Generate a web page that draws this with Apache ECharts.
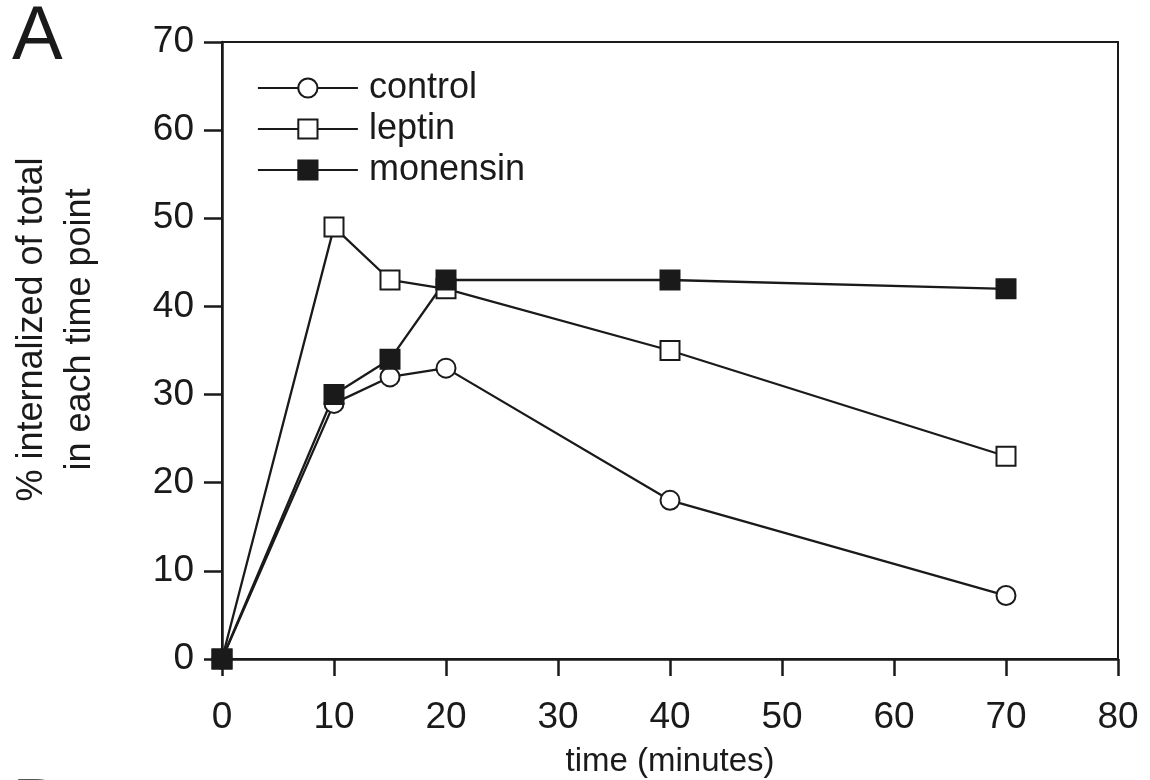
<!DOCTYPE html>
<html>
<head>
<meta charset="utf-8">
<script src="https://cdn.jsdelivr.net/npm/echarts@6/dist/echarts.min.js"></script>
<style>
  html, body { margin: 0; padding: 0; background: #fff; }
  #chart { width: 1150px; height: 780px; }
</style>
</head>
<body>
<div id="chart"></div>
<script>
const timePoints = [0, 10, 15, 20, 40, 70];
const control = [0, 29, 32, 33, 18, 7.2];
const leptin = [0, 49, 43, 42, 35, 23];
const monensin = [0, 30, 34, 43, 43, 42];
const seriesNames = ['control', 'leptin', 'monensin'];

const ink = '#1a1a1a';
const font = '"Liberation Sans", Arial, sans-serif';

function pairs(values) {
    return timePoints.map(function (t, i) { return [t, values[i]]; });
}

function lineSeries(name, values, symbol, fill) {
    return {
        name: name,
        type: 'line',
        data: pairs(values),
        symbol: symbol,
        symbolSize: 19,
        lineStyle: { color: ink, width: 2.3 },
        itemStyle: { color: fill, borderColor: ink, borderWidth: 2 },
        emphasis: { disabled: true },
        animation: false,
    };
}

const option = {
    backgroundColor: '#fff',
    textStyle: { fontFamily: font },
    title: [
        { text: 'A', left: 12, top: 0, padding: 0,
          textStyle: { fontFamily: font, fontSize: 76, fontWeight: 'normal', color: ink } },
        { text: 'B', left: 12, top: 773, padding: 0,
          textStyle: { fontFamily: font, fontSize: 76, fontWeight: 'normal', color: ink } },
    ],
    legend: {
        data: seriesNames,
        orient: 'vertical',
        left: 257,
        top: 70,
        padding: 0,
        itemWidth: 100,
        itemHeight: 24,
        itemGap: 5,
        selectedMode: false,
        textStyle: { fontFamily: font, fontSize: 36, color: ink, lineHeight: 36, padding: [0, 0, 0, 6] },
        lineStyle: { width: 1.8, color: ink },
    },
    grid: {
        left: 222, right: 32, top: 42, bottom: 121,
        show: true,
        borderColor: ink,
        borderWidth: 2,
        outerBoundsMode: 'none',
    },
    xAxis: {
        type: 'value',
        min: 0, max: 80, interval: 10,
        name: 'time (minutes)',
        nameLocation: 'middle',
        nameGap: 86,
        nameTextStyle: { fontFamily: font, fontSize: 33, color: ink },
        axisLine: { show: true, onZero: false, lineStyle: { color: ink, width: 2.5 } },
        axisTick: { show: true, inside: false, length: 17, lineStyle: { color: ink, width: 2.5 } },
        axisLabel: { fontFamily: font, fontSize: 37, color: ink, margin: 40 },
        splitLine: { show: false },
    },
    yAxis: {
        type: 'value',
        min: 0, max: 70, interval: 10,
        name: '% internalized of total\nin each time point',
        nameLocation: 'middle',
        nameRotate: 90,
        nameGap: 118,
        nameTextStyle: { fontFamily: font, fontSize: 36, color: ink, lineHeight: 48, padding: [0, 0, 0, 42] },
        axisLine: { show: true, onZero: false, lineStyle: { color: ink, width: 2.5 } },
        axisTick: { show: true, inside: false, length: 18, lineStyle: { color: ink, width: 2.5 } },
        axisLabel: { fontFamily: font, fontSize: 37, color: ink, margin: 28 },
        splitLine: { show: false },
    },
    series: [
        lineSeries('control', control, 'circle', '#fff'),
        lineSeries('leptin', leptin, 'rect', '#fff'),
        lineSeries('monensin', monensin, 'rect', ink),
    ],
};

const chart = echarts.init(document.getElementById('chart'));
chart.setOption(option);
</script>
</body>
</html>
